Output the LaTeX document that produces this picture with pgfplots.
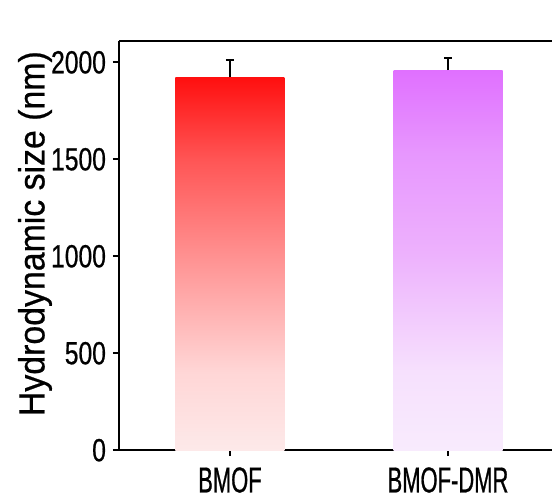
\documentclass[border=0pt]{standalone}
\usepackage{pgfplots}
\pgfplotsset{compat=1.18}
\usepackage{fontspec}
\setmainfont{Liberation Sans}[FakeStretch=0.8]
\newfontfamily\tickfont{Liberation Sans}[FakeStretch=0.77, FakeBold=0.6]
\newfontfamily\xlabfont{Liberation Sans}[FakeStretch=0.61, FakeBold=0.6]
\newfontfamily\ylabfont{Liberation Sans}[FakeStretch=0.93, FakeBold=0.6]
\definecolor{redtop}{RGB}{255,15,15}
\definecolor{redA}{RGB}{255,85,85}
\definecolor{redB}{RGB}{255,145,145}
\definecolor{redC}{RGB}{255,214,214}
\definecolor{redbot}{RGB}{253,233,233}
\definecolor{viotop}{RGB}{224,112,255}
\definecolor{vioA}{RGB}{231,151,254}
\definecolor{vioB}{RGB}{237,177,253}
\definecolor{vioC}{RGB}{246,224,253}
\definecolor{viobot}{RGB}{248,235,253}
\pgfdeclareverticalshading{redgrad}{100bp}{color(0bp)=(redbot); color(25bp)=(redbot); color(35.5bp)=(redC); color(51bp)=(redB); color(64bp)=(redA); color(75bp)=(redtop); color(100bp)=(redtop)}
\pgfdeclareverticalshading{viograd}{100bp}{color(0bp)=(viobot); color(25bp)=(viobot); color(35.5bp)=(vioC); color(51bp)=(vioB); color(64bp)=(vioA); color(75bp)=(viotop); color(100bp)=(viotop)}
\begin{document}
\begin{tikzpicture}
\begin{axis}[
  scale only axis,
  width=216.5pt, height=204.6pt,
  xmin=-0.509, xmax=1.477,
  ymin=0, ymax=2110,
  axis x line=box, axis y line=left,
  axis line style={line width=0.9pt, -},
  xtick={0,1}, xticklabels={BMOF,BMOF-DMR},
  xtick pos=bottom,
  ytick={0,500,1000,1500,2000},
  tick align=outside,
  major tick length=3pt,
  tick style={line width=0.9pt, black},
  /pgf/number format/assume math mode=true,
  /pgf/number format/1000 sep={},
  yticklabel style={font=\tickfont\fontsize{16pt}{17pt}\selectfont},
  xticklabel style={font=\xlabfont\fontsize{18pt}{19pt}\selectfont, yshift=-2pt},
  ylabel={Hydrodynamic size (nm)},
  ylabel style={font=\ylabfont\fontsize{18.2pt}{19pt}\selectfont, at={(axis description cs:0,0.5)}, anchor=center, yshift=42pt, xshift=6pt},
  clip=false,
]
\coordinate (bl) at (rel axis cs:0,0);
\coordinate (tr) at (rel axis cs:1,1);
\addplot[ybar, bar width=54.5pt, bar shift=0pt, draw=none, shade, shading=redgrad] coordinates {(0,1923)};
\addplot[ybar, bar width=54.5pt, bar shift=0pt, draw=none, shade, shading=viograd] coordinates {(1,1960)};
\addplot[draw=none, mark=none, error bars/.cd, y dir=plus, y explicit,
  error bar style={draw=black, solid, line width=0.9pt},
  error mark options={rotate=90, mark size=2pt, draw=black, line width=0.9pt}]
  coordinates {(0,1923) +- (0,89) (1,1960) +- (0,61)};
\end{axis}
\pgfresetboundingbox
\path ([shift={(-59.5pt,-23.35pt)}]bl) rectangle ([shift={(0pt,20.5pt)}]tr);
\end{tikzpicture}
\end{document}
